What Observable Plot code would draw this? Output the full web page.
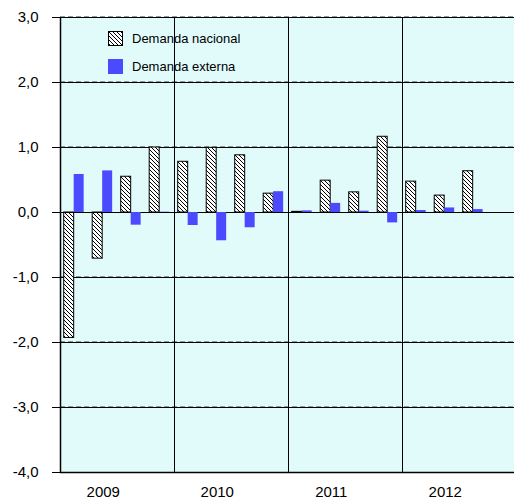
<!DOCTYPE html>
<html>
<head>
<meta charset="utf-8">
<script src="https://cdn.jsdelivr.net/npm/d3@7"></script>
<script src="https://cdn.jsdelivr.net/npm/@observablehq/plot@0.6"></script>
<style>
  html, body { margin: 0; padding: 0; background: #fff; }
  #wrap { position: relative; width: 514px; height: 502px; font-family: "Liberation Sans", Arial, sans-serif; }
  #legend { position: absolute; left: 108px; top: 31px; font-size: 13px; color: #000; }
  .item { display: flex; align-items: center; height: 15px; margin-bottom: 13px; }
  .sw { width: 15px; height: 15px; margin-right: 9px; box-sizing: border-box; }
</style>
</head>
<body>
<div id="wrap"></div>
<script>
const years = ["2009", "2010", "2011", "2012"];
const quarters = ["2009 T1","2009 T2","2009 T3","2009 T4","2010 T1","2010 T2","2010 T3","2010 T4",
                  "2011 T1","2011 T2","2011 T3","2011 T4","2012 T1","2012 T2","2012 T3","2012 T4"];
const nacional = [-1.93, -0.71, 0.55, 1.00, 0.78, 0.995, 0.88, 0.29, 0.01, 0.49, 0.31, 1.165, 0.475, 0.26, 0.635, null];
const externa  = [0.585, 0.64, -0.195, 0.005, -0.20, -0.435, -0.235, 0.32, 0.025, 0.14, 0.02, -0.16, 0.03, 0.07, 0.045, null];
const yTicks = [-4, -3, -2, -1, 0, 1, 2, 3];
const gridValues = [-3, -2, -1, 1, 2, 3];
const seriesNames = ["Demanda nacional", "Demanda externa"];

const bg = "#e1fbfb";
const blue = "#4a4aff";

const rows = quarters.map((q, i) => ({q, i, nac: nacional[i], ext: externa[i]}));
const nacRows = rows.filter(d => d.nac != null);
const extRows = rows.filter(d => d.ext != null);

const svg = Plot.plot({
  width: 514,
  height: 502,
  marginLeft: 60,
  marginRight: 0,
  marginTop: 17,
  marginBottom: 30,
  x: {domain: [0, 16], range: [60, 516], axis: null},
  y: {domain: [-4, 3], axis: null},
  style: {fontFamily: "'Liberation Sans', Arial, sans-serif", color: "#000"},
  marks: [
    Plot.frame({fill: bg, stroke: null}),
    Plot.ruleY(gridValues, {stroke: "#000", strokeWidth: 1}),
    Plot.ruleY(gridValues, {stroke: "#8a9a9a", strokeWidth: 1, strokeDasharray: "5,3", dy: -1}),
    Plot.ruleX([4, 8, 12], {stroke: "#000", strokeWidth: 1}),
    Plot.rect(nacRows, {x1: d => d.i + 0.13, x2: d => d.i + 0.48, y1: 0, y2: d => d.nac,
      fill: "url(#hatch)", stroke: "#000", strokeWidth: 1}),
    Plot.ruleY([0], {stroke: "#000", strokeWidth: 1}),
    Plot.rect(extRows, {x1: d => d.i + 0.48, x2: d => d.i + 0.83, y1: 0, y2: d => d.ext,
      fill: blue}),
    Plot.ruleY([-4], {stroke: "#000", strokeWidth: 1.5}),
    Plot.ruleX([0], {stroke: "#000", strokeWidth: 1.5}),
    Plot.axisY({ticks: yTicks, tickSize: 8, tickPadding: 14, fontSize: 15,
      tickFormat: d => d.toFixed(1).replace(".", ",")}),
    Plot.text(years, {x: (d, i) => i * 4 + 1.5, y: () => -4, dy: 20, fontSize: 15, text: d => d})
  ]
});

const ns = "http://www.w3.org/2000/svg";
const defs = document.createElementNS(ns, "defs");
defs.innerHTML = `<pattern id="hatch" patternUnits="userSpaceOnUse" width="4" height="4">
  <rect width="4" height="4" fill="#fff"/>
  <path d="M-1,-1 L5,5 M-1,3 L1,5 M3,-1 L5,1" stroke="#000" stroke-width="1"/>
</pattern>`;
svg.insertBefore(defs, svg.firstChild);

const wrap = document.getElementById("wrap");
wrap.appendChild(svg);

const legend = document.createElement("div");
legend.id = "legend";
legend.innerHTML = `
  <div class="item"><svg class="sw" width="15" height="15"><rect x="0.5" y="0.5" width="14" height="14" fill="url(#hatch)" stroke="#000"/></svg><span>${seriesNames[0]}</span></div>
  <div class="item"><div class="sw" style="background:${blue}"></div><span>${seriesNames[1]}</span></div>`;
wrap.appendChild(legend);
</script>
</body>
</html>
